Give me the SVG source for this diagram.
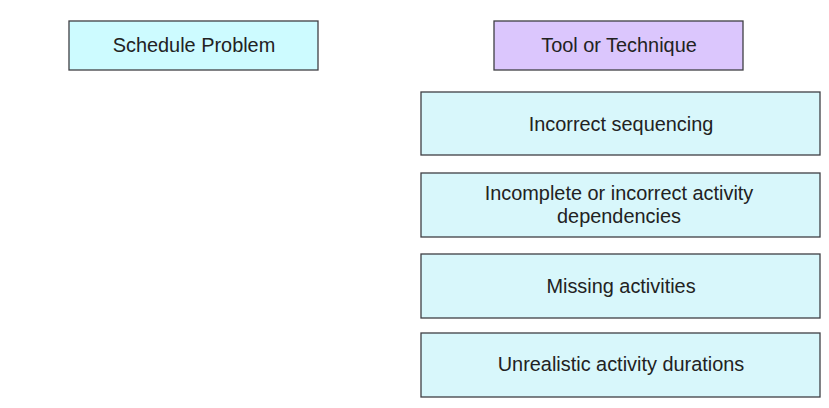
<svg xmlns="http://www.w3.org/2000/svg" width="829" height="408" viewBox="0 0 829 408">
<style>
.box{stroke:#3f3f44;stroke-width:1.3}
.cyan{fill:#cdfbff}
.light{fill:#d8f7fb}
.purple{fill:#dbc6fd}
text{font-family:"Liberation Sans",Arial,sans-serif;font-size:19.9px;fill:#222;text-anchor:middle;dominant-baseline:central}
</style>
<rect width="829" height="408" fill="#ffffff"/>
<g id="schedule-problem">
<rect class="box cyan" x="69" y="21" width="249" height="49"/>
<text x="194" y="45">Schedule Problem</text>
</g>
<g id="tool-or-technique">
<rect class="box purple" x="494" y="21" width="249" height="49"/>
<text x="619" y="45">Tool or Technique</text>
</g>
<g id="incorrect-sequencing">
<rect class="box light" x="421" y="92" width="399" height="63"/>
<text x="621" y="124">Incorrect sequencing</text>
</g>
<g id="incomplete-dependencies">
<rect class="box light" x="421" y="173" width="399" height="64"/>
<text x="619" y="193">Incomplete or incorrect activity</text>
<text x="619" y="216">dependencies</text>
</g>
<g id="missing-activities">
<rect class="box light" x="421" y="254" width="399" height="64"/>
<text x="621" y="286">Missing activities</text>
</g>
<g id="unrealistic-durations">
<rect class="box light" x="421" y="333" width="399" height="64"/>
<text x="621" y="364">Unrealistic activity durations</text>
</g>
<g id="connectors"></g>
</svg>
